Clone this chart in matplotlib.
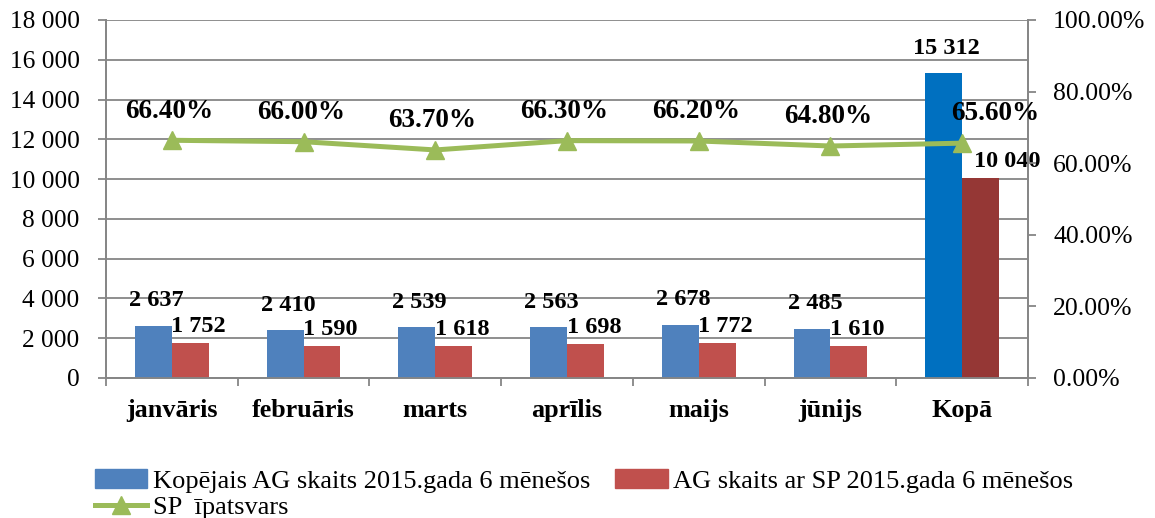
import numpy as np
import matplotlib
matplotlib.use("Agg")
import matplotlib.pyplot as plt
from matplotlib.ticker import FuncFormatter, MultipleLocator
from matplotlib.lines import Line2D
from matplotlib.patches import Patch

plt.rcParams['font.family'] = ['Liberation Serif', 'DejaVu Serif']

months = ['janvāris', 'februāris', 'marts', 'aprīlis', 'maijs', 'jūnijs', 'Kopā']
total_ag = [2637, 2410, 2539, 2563, 2678, 2485, 15312]
ag_sp = [1752, 1590, 1618, 1698, 1772, 1610, 10040]
sp_share = [66.40, 66.00, 63.70, 66.30, 66.20, 64.80, 65.60]

blue = '#4F81BD'
red = '#C0504D'
blue_total = '#0070C0'
red_total = '#953735'
green = '#9BBB59'
grid_c = '#868686'


def thousands(v, pos=None):
    return f"{int(v):,}".replace(",", " ")


fig = plt.figure(figsize=(11.55, 5.18), dpi=100)
ax = fig.add_axes([0.0918, 0.2703, 0.7983, 0.6911])
ax2 = ax.twinx()

x = np.arange(len(months))
w = 0.28
cb = [blue] * 6 + [blue_total]
cr = [red] * 6 + [red_total]
ax.bar(x - w / 2, total_ag, w, color=cb, zorder=3)
ax.bar(x + w / 2, ag_sp, w, color=cr, zorder=3)

lab_kw = dict(fontsize=17.5, fontweight='bold', ha='center', va='center',
              textcoords='offset points', zorder=5)
last = len(months) - 1
for i in range(len(months)):
    ax.annotate(thousands(total_ag[i]), (x[i] - w / 2, total_ag[i]),
                xytext=(2, 18), **lab_kw)
    ax.annotate(thousands(ag_sp[i]), (x[i] + w / 2, ag_sp[i]),
                xytext=(19 if i == last else 6, 12), **lab_kw)

ax.set_xlim(-0.5, len(months) - 0.5)
ax.set_ylim(0, 18000)
ax.yaxis.set_major_locator(MultipleLocator(2000))
ax.yaxis.set_major_formatter(FuncFormatter(thousands))
ax.grid(axis='y', color=grid_c, linewidth=1.3, zorder=0)
ax.set_axisbelow(True)
ax.set_xticks(x)
ax.set_xticklabels(months, fontsize=18.8, fontweight='bold')
ax.set_xticks(np.arange(-0.5, len(months)), minor=True)
ax.tick_params(axis='x', which='major', length=0, pad=15)
ax.tick_params(axis='x', which='minor', length=6, width=1.3, color=grid_c)
ax.tick_params(axis='y', labelsize=18.3, length=6, width=1.3, color=grid_c, pad=13)

ax2.plot(x, sp_share, color=green, linewidth=3.6, marker='^', markersize=13, zorder=4)
ax2.set_ylim(0, 100)
ax2.yaxis.set_major_locator(MultipleLocator(20))
ax2.yaxis.set_major_formatter(FuncFormatter(lambda v, p: f"{v:.2f}%"))
ax2.tick_params(axis='y', labelsize=18.5, length=6, width=1.3, color=grid_c, pad=12)
for i, v in enumerate(sp_share):
    dx = 24 if i == last else -2
    ax2.annotate(f"{v:.2f}%", (x[i], v), xytext=(dx, 21), textcoords='offset points',
                 fontsize=19.5, fontweight='bold', ha='center', va='center', zorder=5)

for a in (ax, ax2):
    for s in a.spines.values():
        s.set_color(grid_c)
        s.set_linewidth(1.3)
    a.spines['top'].set_visible(False)

handles = [Patch(color=blue), Line2D([], [], color=green, linewidth=3.6, marker='^', markersize=13),
           Patch(color=red)]
labels = ['Kopējais AG skaits 2015.gada 6 mēnešos', 'SP  īpatsvars',
          'AG skaits ar SP 2015.gada 6 mēnešos']
fig.legend(handles, labels, ncol=2, loc='upper left', bbox_to_anchor=(0.082, 0.094),
           frameon=False, fontsize=19, handlelength=2.0, handletextpad=0.2,
           columnspacing=0.95, labelspacing=0.12, borderaxespad=0, borderpad=0)

fig.savefig('out.png', dpi=100)
